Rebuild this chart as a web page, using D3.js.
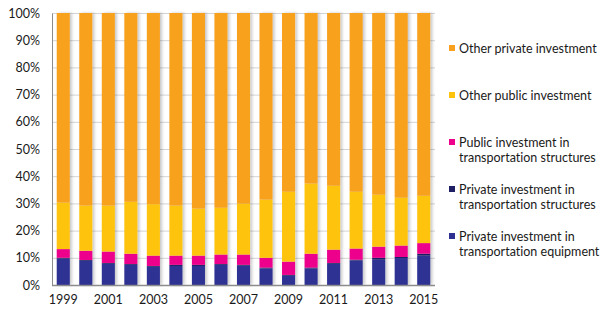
<!DOCTYPE html>
<html>
<head>
<meta charset="utf-8">
<script src="https://cdn.jsdelivr.net/npm/d3@7"></script>
<style>
  body { margin: 0; background: #fff; }
  text { font-family: Lato, "Open Sans", sans-serif; fill: #1a1a1a; font-variant-ligatures: none; }
</style>
</head>
<body>
<div id="chart"></div>
<script>
// data (percent of total investment)
var years = ["1999","2000","2001","2002","2003","2004","2005","2006","2007","2008","2009","2010","2011","2012","2013","2014","2015"];
var tickYears = ["1999","2001","2003","2005","2007","2009","2011","2013","2015"];
var privEquipment = [9.7, 8.9, 7.8, 7.4, 6.7, 7.0, 7.0, 7.4, 7.1, 6.1, 3.4, 6.1, 7.8, 9.0, 9.3, 9.9, 10.8];
var privStructures = [0.3, 0.3, 0.3, 0.3, 0.3, 0.4, 0.4, 0.3, 0.3, 0.3, 0.3, 0.3, 0.3, 0.3, 0.7, 0.4, 0.7];
var pubStructures = [3.2, 3.4, 4.2, 3.8, 3.8, 3.4, 3.4, 3.5, 3.8, 3.6, 4.9, 5.1, 4.9, 4.1, 4.1, 4.2, 3.9];
var otherPublic = [17.1, 16.6, 16.9, 19.1, 18.9, 18.4, 17.3, 17.2, 18.7, 21.4, 25.7, 25.8, 23.5, 20.9, 19.1, 17.6, 17.4];
var seriesNames = ["Private investment in transportation equipment",
                   "Private investment in transportation structures",
                   "Public investment in transportation structures",
                   "Other public investment",
                   "Other private investment"];
var colors = ["#2e3192", "#1f1f66", "#ec008c", "#fec40d", "#f7a11f"];

var rows = years.map(function (yr, i) {
    var r = { year: yr, s0: privEquipment[i], s1: privStructures[i], s2: pubStructures[i], s3: otherPublic[i] };
    r.s4 = 100 - r.s0 - r.s1 - r.s2 - r.s3;
    return r;
});
var keys = ["s0", "s1", "s2", "s3", "s4"];

var width = 612, height = 323;
var svg = d3.select("#chart").append("svg")
    .attr("width", width)
    .attr("height", height);

var f = svg.append("defs").append("filter").attr("id", "shadow")
    .attr("x", "-20%").attr("y", "-5%").attr("width", "160%").attr("height", "110%");
f.append("feDropShadow").attr("dx", 2).attr("dy", 0).attr("stdDeviation", 1.4)
    .attr("flood-color", "#000").attr("flood-opacity", 0.22);

var mLeft = 52, mRight = 435, mTop = 13, mBottom = 285;

var x = d3.scaleBand().domain(years).range([mLeft, mRight]).paddingInner(0.42).paddingOuter(0.21);
var y = d3.scaleLinear().domain([0, 100]).range([mBottom, mTop]);

// gridlines
svg.append("g")
    .selectAll("line")
    .data(d3.range(10, 101, 10))
    .enter().append("line")
    .attr("x1", mLeft).attr("x2", mRight)
    .attr("y1", function (d) { return y(d) + 0.5; })
    .attr("y2", function (d) { return y(d) + 0.5; })
    .attr("stroke", "#d4d4d4")
    .attr("stroke-width", 1);

var stack = d3.stack().keys(keys)(rows);

var barG = svg.append("g").attr("filter", "url(#shadow)");
stack.forEach(function (layer, li) {
    barG.selectAll("rect.l" + li)
        .data(layer)
        .enter().append("rect")
        .attr("class", "l" + li)
        .attr("x", function (d) { return x(d.data.year); })
        .attr("width", x.bandwidth())
        .attr("y", function (d) { return y(d[1]); })
        .attr("height", function (d) { return y(d[0]) - y(d[1]); })
        .attr("fill", colors[li]);
});

// axes
var yAxis = svg.append("g")
    .attr("transform", "translate(" + mLeft + ",0)")
    .call(d3.axisLeft(y).tickValues(d3.range(0, 101, 10)).tickSize(0).tickPadding(12)
        .tickFormat(function (d) { return d + "%"; }));
yAxis.select(".domain").attr("stroke", "#8c8c8c");
yAxis.selectAll("text").style("font-size", "12.5px").attr("fill", "#1a1a1a");

var xAxis = svg.append("g")
    .attr("transform", "translate(0," + mBottom + ")")
    .call(d3.axisBottom(x).tickValues(tickYears).tickSize(0).tickPadding(10));
xAxis.select(".domain").attr("stroke", "#8c8c8c").attr("stroke-width", 1.5)
    .attr("d", "M" + mLeft + ",0.5H" + mRight);
xAxis.selectAll("text").style("font-size", "12.5px").attr("fill", "#1a1a1a");

// legend, top entry is the top series
var legendItems = [
    { lines: ["Other private investment"], c: colors[4], ly: 48 },
    { lines: ["Other public investment"], c: colors[3], ly: 95 },
    { lines: ["Public investment in", "transportation structures"], c: colors[2], ly: 142 },
    { lines: ["Private investment in", "transportation structures"], c: colors[1], ly: 189 },
    { lines: ["Private investment in", "transportation equipment"], c: colors[0], ly: 236 }
];
var lg = svg.append("g").selectAll("g")
    .data(legendItems)
    .enter().append("g")
    .attr("transform", function (d) { return "translate(449," + d.ly + ")"; });
lg.append("rect")
    .attr("x", 0).attr("y", -3).attr("width", 6).attr("height", 6)
    .attr("fill", function (d) { return d.c; });
lg.each(function (d) {
    var t = d3.select(this).append("text")
        .attr("x", 10).attr("y", 4.5)
        .style("font-size", "12.5px");
    d.lines.forEach(function (s, i) {
        t.append("tspan").attr("x", 10).attr("dy", i === 0 ? 0 : 15).text(s);
    });
});
</script>
</body>
</html>
